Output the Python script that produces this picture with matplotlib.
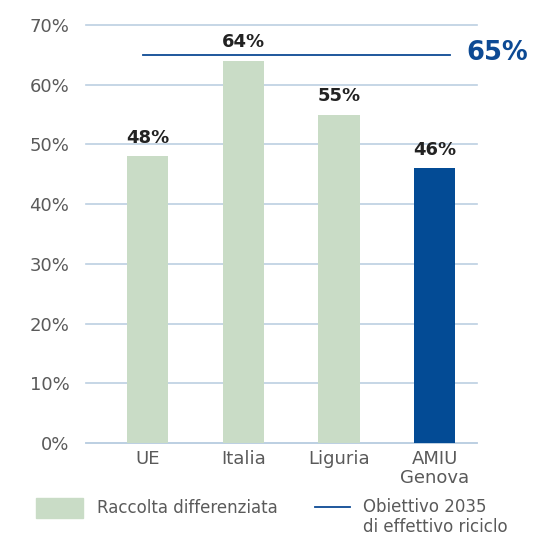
import matplotlib.pyplot as plt
from matplotlib.patches import Rectangle
from matplotlib.lines import Line2D

# dati
categorie = ["UE", "Italia", "Liguria", "AMIU\nGenova"]
valori = [48, 64, 55, 46]
colori = ["#c9dcc6", "#c9dcc6", "#c9dcc6", "#034b95"]
obiettivo = 65

plt.rcParams['font.family'] = ['DejaVu Sans']

W, H = 535, 536
fig = plt.figure(figsize=(W / 100, H / 100), dpi=100)
ax = fig.add_axes([0.1607, 0.1735, 0.731, 0.78])

x = list(range(len(categorie)))
ax.bar(x, valori, width=0.43, color=colori, zorder=3)

for xi, v in zip(x, valori):
    ax.text(xi, v + 1.6, f"{v}%", ha='center', va='bottom',
            fontsize=13, fontweight='bold', color='#222222', zorder=4)

ax.plot([-0.05, 3.16], [obiettivo, obiettivo], color='#0d4a94', lw=1.3, zorder=4)
ax.text(3.33, obiettivo + 0.3, f"{obiettivo}%", ha='left', va='center',
        fontsize=18.5, fontweight='bold', color='#0d4a94', clip_on=False)

ax.set_xlim(-0.64, 3.44)
ax.set_ylim(0, 70)
ax.set_yticks(range(0, 71, 10))
ax.set_yticklabels([f"{t}%" for t in range(0, 71, 10)])
ax.set_xticks(x)
ax.set_xticklabels(categorie, linespacing=1.05)

ax.grid(axis='y', color='#bccfe2', lw=1.2, zorder=0)
for gl in ax.get_ygridlines():
    gl.set_clip_on(False)
for s in ['top', 'right', 'left']:
    ax.spines[s].set_visible(False)
ax.spines['bottom'].set_color('#bccfe2')
ax.spines['bottom'].set_linewidth(1.2)
ax.tick_params(axis='both', length=0, labelsize=13, colors='#5a5a5a')
ax.tick_params(axis='y', pad=12)
ax.tick_params(axis='x', pad=5)

# legenda disegnata a mano (coordinate in pixel della figura)
def px(xp, yp):
    return xp / W, 1 - yp / H

fig.add_artist(Rectangle(px(36, 518), 47 / W, 20 / H, color='#c9dcc6',
                         transform=fig.transFigure))
fig.text(*px(97, 508), "Raccolta differenziata", fontsize=12,
         color='#5a5a5a', va='center', ha='left')
x0, y0 = px(315, 507)
x1, _ = px(350, 507)
fig.add_artist(Line2D([x0, x1], [y0, y0], color='#0d4a94', lw=1.3,
                      transform=fig.transFigure))
fig.text(*px(363, 507), "Obiettivo 2035", fontsize=12,
         color='#5a5a5a', va='center', ha='left')
fig.text(*px(363, 527), "di effettivo riciclo", fontsize=12,
         color='#5a5a5a', va='center', ha='left')

fig.savefig("out.png", dpi=100)
